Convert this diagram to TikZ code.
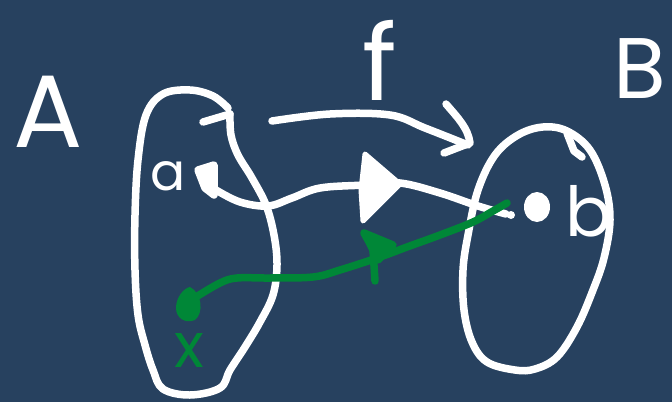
\documentclass[tikz,border=0pt]{standalone}
\usepackage{fontspec}
\setmainfont{Poppins}
\definecolor{bg}{RGB}{39,65,95}
\definecolor{gr}{RGB}{0,135,55}
\tikzset{
  wline/.style={draw=white, line width=7.5pt, line cap=round, line join=round},
  gline/.style={draw=gr, line width=7.5pt, line cap=round, line join=round},
  lbl/.style={inner sep=0pt, anchor=base},
}
\begin{document}
\begin{tikzpicture}[x=1pt,y=-1pt]
\fill[bg] (0,0) rectangle (672,402);
\useasboundingbox (0,0) rectangle (672,402);

% labels
\node[lbl, text=white, font=\fontsize{103}{103}\selectfont] (labelA) at (48,147) {A};
\node[lbl, text=white, font=\fontsize{86}{86}\selectfont] (labelB) at (640,98) {B};
\node[lbl, text=white, font=\fontsize{105}{105}\selectfont] (labelf) at (380,100) {f};
\node[lbl, text=white, font=\fontsize{52}{52}\selectfont] (labela) at (168,190) {a};
\node[lbl, text=white, font=\fontsize{69}{69}\selectfont] (labelb) at (589,236) {b};
\node[lbl, text=gr, font=\fontsize{62}{62}\selectfont] (labelx) at (189,367) {x};

% named points
\coordinate (pa) at (216,190);
\coordinate (pb) at (507,203);
\coordinate (px) at (196,297);
\coordinate (fs) at (272,121);
\coordinate (fe) at (468,145);

% set A
\draw[wline] (203,122) -- (230,114);
\draw[wline] plot[smooth, tension=0.6] coordinates {(230,114) (231,135) (238,155) (252,178) (266,205) (274,235) (277,265) (273,295) (260,322) (245,347) (230,370) (220,388) (190,395) (163,389) (153,370) (145,345) (138,315) (135,270) (135,215) (138,160) (146,115) (163,94) (190,90) (213,96) (228,108)};

% set B
\draw[wline] plot[smooth cycle, tension=0.6] coordinates {(543,127) (567,131) (590,150) (605,185) (610,220) (604,258) (593,290) (577,327) (557,357) (535,369) (515,370) (487,362) (472,342) (464,310) (463,270) (468,235) (478,190) (495,155) (518,135)};
\draw[wline] (567,133) -- (574,151) -- (582,157);

% arrow f
\draw[wline] plot[smooth, tension=0.6] coordinates {(fs) (330,114) (390,115) (425,128) (fe)};
\draw[wline] (446,104) .. controls (458,118) and (468,128) .. (470,143) -- (444,153);

% point a, point b
\filldraw[wline, fill=white] (198,170) -- (214,165) -- (214,195) -- (205,188) -- cycle;
\fill[white] (537,207) ellipse [x radius=13, y radius=15];
\fill[white] (511,215) circle [radius=4];

% a -> b
\draw[wline] plot[smooth, tension=0.6] coordinates {(pa) (240,202) (268,206) (292,198) (320,188) (365,185) (400,183) (440,193) (478,206) (506,214)};
\filldraw[wline, line width=5pt, fill=white] (365,154) -- (400,184) -- (363,221) -- (361,190) -- cycle;

% green b -> x
\draw[gline] plot[smooth, tension=0.6] coordinates {(pb) (493,211) (473,222) (440,235) (407,247) (380,257) (340,270) (313,277) (270,278) (237,278) (220,283) (px)};
\fill[gr] (190,287) .. controls (202,293) and (204,313) .. (195,320) .. controls (185,324) and (176,318) .. (176,308) .. controls (176,297) and (184,288) .. (190,287) -- cycle;
\filldraw[gline, fill=gr] (364,233) -- (393,245) -- (378,260) -- (369,242) -- cycle;
\draw[gline] (373,250) -- (375,281);
\end{tikzpicture}
\end{document}
